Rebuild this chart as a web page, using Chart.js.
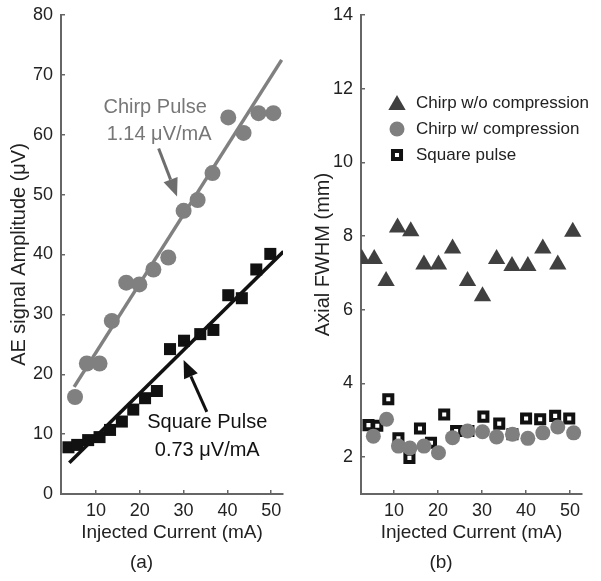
<!DOCTYPE html>
<html>
<head>
<meta charset="utf-8">
<script src="https://cdn.jsdelivr.net/npm/chart.js@4/dist/chart.umd.min.js"></script>
<style>
  html, body { margin: 0; padding: 0; background: #fff; }
  #wrap { position: relative; width: 601px; height: 581px; }
  #left { position: absolute; left: 0; top: 0; }
  #right { position: absolute; left: 300px; top: 0; }
</style>
</head>
<body>
<div id="wrap">
  <canvas id="left" width="300" height="581"></canvas>
  <canvas id="right" width="301" height="581"></canvas>
</div>
<script>
// (a) AE signal amplitude vs injected current
const chirpX = [5.2, 7.9, 10.8, 13.6, 16.9, 19.9, 23.1, 26.5, 30.0, 33.2, 36.6, 40.2, 43.7, 47.1, 50.5];
const chirpY = [16.2, 21.8, 21.8, 28.9, 35.3, 35.0, 37.5, 39.5, 47.3, 49.1, 53.6, 62.9, 60.3, 63.6, 63.6];
const squareX = [3.7, 5.7, 8.2, 10.8, 13.2, 15.9, 18.5, 21.2, 23.9, 26.9, 30.1, 33.8, 36.8, 40.2, 43.3, 46.6, 49.8];
const squareY = [7.8, 8.2, 9.0, 9.5, 10.7, 12.1, 14.1, 16.0, 17.2, 24.2, 25.6, 26.7, 27.4, 33.2, 32.7, 37.5, 40.1];
const chirpFitX = [5.0, 52.4];
const chirpFitY = [17.9, 72.5];
const squareFitX = [3.9, 52.8];
const squareFitY = [5.2, 40.5];

// (b) axial FWHM vs injected current
const woX = [2.7, 5.5, 8.2, 10.8, 13.8, 16.8, 20.1, 23.3, 26.7, 30.1, 33.3, 36.8, 40.4, 43.8, 47.2, 50.6];
const woY = [7.38, 7.38, 6.78, 8.23, 8.13, 7.23, 7.23, 7.66, 6.78, 6.37, 7.38, 7.19, 7.19, 7.66, 7.23, 8.12];
const wX = [5.3, 8.3, 11.0, 13.6, 16.8, 20.1, 23.3, 26.7, 30.1, 33.3, 36.9, 40.4, 43.8, 47.2, 50.8];
const wY = [2.57, 3.03, 2.30, 2.25, 2.30, 2.12, 2.53, 2.71, 2.69, 2.55, 2.62, 2.51, 2.66, 2.82, 2.66];
const sqX = [4.2, 6.2, 8.7, 11.0, 13.5, 15.9, 18.4, 21.4, 24.1, 26.9, 30.3, 33.9, 36.9, 40.0, 43.2, 46.6, 49.8];
const sqY = [2.87, 2.85, 3.57, 2.51, 1.98, 2.78, 2.39, 3.16, 2.71, 2.71, 3.10, 2.91, 2.62, 3.05, 3.03, 3.12, 3.05];

const legendLabels = ["Chirp w/o compression", "Chirp w/ compression", "Square pulse"];

const FONT = "'Liberation Sans', Arial, Helvetica, sans-serif";
const AXIS = "#666";

const pts = (xs, ys) => xs.map((x, i) => ({ x, y: ys[i] }));

function axes(xMin, xMax, yMin, yMax, yStep, yTitle, yTitlePad) {
  return {
    x: {
      type: "linear", min: xMin, max: xMax,
      afterFit: (s) => { s.height = 50; s.paddingLeft = 0; s.paddingRight = 0; },
      border: { display: true, color: AXIS, width: 2 },
      grid: { drawOnChartArea: false, tickLength: -4, color: AXIS, lineWidth: 1.5 },
      ticks: { stepSize: 10, includeBounds: false, padding: 10, color: "#222", font: { family: FONT, size: 18 } },
      title: { display: true, text: "Injected Current (mA)", color: "#222", padding: 0, font: { family: FONT, size: 19 } },
    },
    y: {
      type: "linear", min: yMin, max: yMax,
      afterFit: (s) => { s.width = 61; s.paddingTop = 0; s.paddingBottom = 0; },
      border: { display: true, color: AXIS, width: 2 },
      grid: { drawOnChartArea: false, tickLength: -4, color: AXIS, lineWidth: 1.5 },
      ticks: { stepSize: yStep, includeBounds: false, padding: 12, color: "#222", font: { family: FONT, size: 18 } },
      title: { display: true, text: yTitle, color: "#222", padding: { top: yTitlePad, bottom: 0 }, font: { family: FONT, size: 20 } },
    },
  };
}

function baseOptions(panel, padRight, scales) {
  return {
    responsive: false,
    animation: false,
    layout: { padding: { left: 0, top: 15, right: padRight, bottom: 6.6 } },
    plugins: {
      legend: { display: false },
      tooltip: { enabled: false },
      title: { display: true, text: panel, position: "bottom", color: "#222", padding: { top: 7.6, bottom: 0 }, font: { family: FONT, size: 19, weight: "normal" } },
    },
    scales,
  };
}

function arrow(ctx, x1, y1, x2, y2, color) {
  const a = Math.atan2(y2 - y1, x2 - x1);
  const hl = 18, hw = 7.5;
  const bx = x2 - hl * Math.cos(a), by = y2 - hl * Math.sin(a);
  ctx.save();
  ctx.strokeStyle = color;
  ctx.fillStyle = color;
  ctx.lineWidth = 3;
  ctx.beginPath();
  ctx.moveTo(x1, y1);
  ctx.lineTo(bx, by);
  ctx.stroke();
  ctx.beginPath();
  ctx.moveTo(x2, y2);
  ctx.lineTo(bx + hw * Math.sin(a), by - hw * Math.cos(a));
  ctx.lineTo(bx - hw * Math.sin(a), by + hw * Math.cos(a));
  ctx.closePath();
  ctx.fill();
  ctx.restore();
}

// slope labels and arrows, placed in data units
const notes = {
  id: "notes",
  afterDatasetsDraw(chart) {
    const { ctx, scales: { x, y } } = chart;
    const px = (v) => x.getPixelForValue(v);
    const py = (v) => y.getPixelForValue(v);
    ctx.save();
    ctx.font = "20px " + FONT;
    ctx.textAlign = "center";
    ctx.textBaseline = "middle";
    ctx.fillStyle = "#777";
    ctx.fillText("Chirp Pulse", px(23.5), py(64.5));
    ctx.fillText("1.14 \u03bcV/mA", px(24.4), py(60.0));
    ctx.fillStyle = "#111";
    ctx.fillText("Square Pulse", px(35.4), py(11.9));
    ctx.fillText("0.73 \u03bcV/mA", px(35.4), py(7.3));
    ctx.restore();
    arrow(ctx, px(24.3), py(57.7), px(28.5), py(49.7), "#6e6e6e");
    arrow(ctx, px(35.3), py(13.7), px(30.0), py(22.4), "#111");
  },
};

const legendBox = {
  id: "legendBox",
  afterDatasetsDraw(chart) {
    const { ctx, chartArea } = chart;
    const x0 = chartArea.left + 36, y0 = chartArea.top + 88;
    ctx.save();
    chart.data.datasets.forEach((ds, i) => {
      const y = y0 + i * 26;
      ctx.fillStyle = ds.backgroundColor;
      ctx.strokeStyle = ds.borderColor;
      ctx.lineWidth = ds.borderWidth || 0;
      Chart.helpers.drawPoint(ctx, { pointStyle: ds.pointStyle, radius: ds.pointRadius, rotation: 0, borderWidth: ds.borderWidth || 0 }, x0, y + (ds.pointStyle === "triangle" ? 2 : 0));
      ctx.fillStyle = "#222";
      ctx.font = "17px " + FONT;
      ctx.textAlign = "left";
      ctx.textBaseline = "middle";
      ctx.fillText(legendLabels[i], x0 + 19, y);
    });
    ctx.restore();
  },
};

new Chart(document.getElementById("left"), {
  type: "scatter",
  data: {
    datasets: [
      { label: "Chirp fit", data: pts(chirpFitX, chirpFitY), showLine: true, borderColor: "#808080", borderWidth: 3.5, pointRadius: 0 },
      { label: "Square fit", data: pts(squareFitX, squareFitY), showLine: true, borderColor: "#111", borderWidth: 3.5, pointRadius: 0 },
      { label: "Chirp Pulse", data: pts(chirpX, chirpY), pointStyle: "circle", pointRadius: 8, backgroundColor: "#808080", borderWidth: 0 },
      { label: "Square Pulse", data: pts(squareX, squareY), pointStyle: "rect", pointRadius: 8.5, backgroundColor: "#111", borderWidth: 0 },
    ],
  },
  options: baseOptions("(a)", 17, axes(2.0, 52.7, 0, 80, 10, "AE signal Amplitude (\u03bcV)", 7)),
  plugins: [notes],
});

new Chart(document.getElementById("right"), {
  type: "scatter",
  data: {
    datasets: [
      { label: legendLabels[0], data: pts(woX, woY), pointStyle: "triangle", pointRadius: 10, backgroundColor: "#404040", borderColor: "#404040", borderWidth: 0 },
      { label: legendLabels[1], data: pts(wX, wY), pointStyle: "circle", pointRadius: 7.5, backgroundColor: "#7f7f7f", borderColor: "#7f7f7f", borderWidth: 0 },
      { label: legendLabels[2], data: pts(sqX, sqY), pointStyle: "rect", pointRadius: 5.7, backgroundColor: "#fff", borderColor: "#111", borderWidth: 4 },
    ],
  },
  options: baseOptions("(b)", 19, axes(2.5, 52.7, 1, 14, 2, "Axial FWHM (mm)", 11)),
  plugins: [legendBox],
});
</script>
</body>
</html>
